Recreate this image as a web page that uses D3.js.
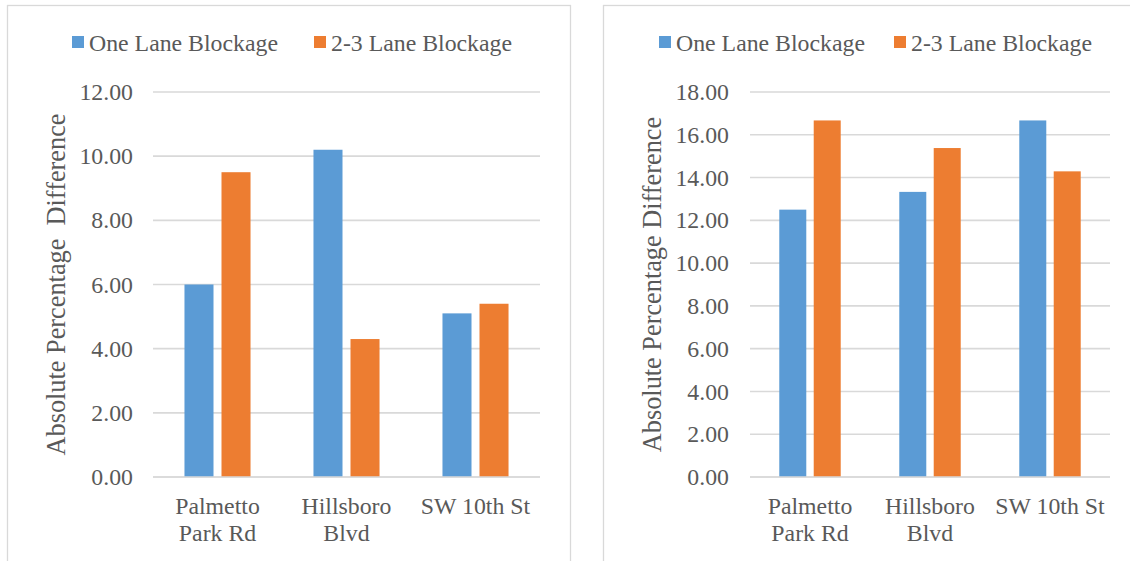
<!DOCTYPE html>
<html>
<head>
<meta charset="utf-8">
<script src="https://cdn.jsdelivr.net/npm/d3@7"></script>
</head>
<body style="margin:0">
<svg id="chart" width="1130" height="561"></svg>
<script>
// Corridors (label lines as wrapped under each group) and series
const categories = ["Palmetto Park Rd", "Hillsboro Blvd", "SW 10th St"];
const categoryLines = [["Palmetto", "Park Rd"], ["Hillsboro", "Blvd"], ["SW 10th St"]];
const seriesNames = ["One Lane Blockage", "2-3 Lane Blockage"];
const seriesColors = ["#5B9BD5", "#ED7D31"];

// Left panel values
const leftOneLane = [6.00, 10.20, 5.10];
const leftMultiLane = [9.50, 4.30, 5.40];
const leftTicks = [0, 2, 4, 6, 8, 10, 12];
const leftTitle = "Absolute Percentage\u00A0 Difference";

// Right panel values
const rightOneLane = [12.50, 13.33, 16.67];
const rightMultiLane = [16.67, 15.38, 14.29];
const rightTicks = [0, 2, 4, 6, 8, 10, 12, 14, 16, 18];
const rightTitle = "Absolute Percentage Difference";

const svg = d3.select("#chart");
const textColor = "#595959";
const gridColor = "#D9D9D9";
const SERIF = '"Liberation Serif"';

function drawPanel(cfg) {
  const g = svg.append("g");

  // chart frame
  g.append("rect")
    .attr("x", cfg.frame[0] + 0.5).attr("y", cfg.frame[1] + 0.5)
    .attr("width", cfg.frame[2]).attr("height", cfg.frame[3])
    .attr("fill", "#fff").attr("stroke", gridColor).attr("stroke-width", 1.3);

  const y = d3.scaleLinear().domain([0, cfg.max]).range([cfg.bottom, cfg.top]);
  const x = d3.scaleBand().domain(categories).range([cfg.left, cfg.right]).padding(0);
  const bw = x.bandwidth() * 0.225;
  const gap = x.bandwidth() * 0.062;

  // gridlines
  g.append("g").selectAll("line").data(cfg.ticks).join("line")
    .attr("x1", cfg.left).attr("x2", cfg.right)
    .attr("y1", d => y(d)).attr("y2", d => y(d))
    .attr("stroke", gridColor).attr("stroke-width", 1.6);

  // y axis labels
  const yAxis = d3.axisLeft(y).tickValues(cfg.ticks).tickFormat(d3.format(".2f"))
    .tickSize(0).tickPadding(cfg.tickPad);
  const ya = g.append("g").attr("transform", `translate(${cfg.left},0)`).call(yAxis);
  ya.attr("font-family", "Liberation Serif").attr("font-size", 24);
  ya.select(".domain").remove();
  ya.selectAll("text")
    .attr("fill", textColor)
    .style("font-family", SERIF)
    .style("font-size", "23.8px");

  // bars
  [cfg.one, cfg.multi].forEach((vals, si) => {
    g.append("g").selectAll("rect").data(vals).join("rect")
      .attr("x", (d, i) => {
        const c = x(categories[i]) + x.bandwidth() / 2;
        return si === 0 ? c - gap / 2 - bw : c + gap / 2;
      })
      .attr("y", d => y(d))
      .attr("width", bw)
      .attr("height", d => y(0) - y(d))
      .attr("fill", seriesColors[si]);
  });

  // baseline over the bars
  g.append("line")
    .attr("x1", cfg.left).attr("x2", cfg.right)
    .attr("y1", y(0)).attr("y2", y(0))
    .attr("stroke", gridColor).attr("stroke-width", 1.6);

  // category labels, one text per line
  categories.forEach((cat, ci) => {
    g.selectAll(null).data(categoryLines[ci]).join("text")
      .attr("x", x(cat) + x.bandwidth() / 2)
      .attr("y", (d, li) => cfg.bottom + 37 + li * 27)
      .attr("text-anchor", "middle")
      .attr("fill", textColor)
      .style("font-family", SERIF)
      .style("font-size", "23.8px")
      .text(d => d);
  });

  // axis title
  g.append("text")
    .attr("transform", `translate(${cfg.titleX},${(cfg.top + cfg.bottom) / 2}) rotate(-90)`)
    .attr("text-anchor", "middle")
    .attr("fill", textColor)
    .style("font-family", SERIF)
    .style("font-size", "26.3px")
    .style("white-space", "pre")
    .text(cfg.title);

  // legend
  seriesNames.forEach((name, si) => {
    const lx = cfg.legendX[si];
    g.append("rect").attr("x", lx).attr("y", 36).attr("width", 12).attr("height", 12)
      .attr("fill", seriesColors[si]);
    g.append("text").attr("x", lx + 17).attr("y", 51)
      .attr("fill", textColor)
      .style("font-family", SERIF)
      .style("font-size", "23.8px")
      .text(name);
  });
}

drawPanel({
  frame: [7, 5, 563, 600],
  left: 153, right: 540, top: 92, bottom: 477,
  max: 12, ticks: leftTicks, tickPad: 20,
  one: leftOneLane, multi: leftMultiLane,
  title: leftTitle, titleX: 65, legendX: [72, 314]
});

drawPanel({
  frame: [603, 5, 560, 600],
  left: 750, right: 1110, top: 92, bottom: 477,
  max: 18, ticks: rightTicks, tickPad: 21,
  one: rightOneLane, multi: rightMultiLane,
  title: rightTitle, titleX: 661, legendX: [659, 894]
});
</script>
</body>
</html>
